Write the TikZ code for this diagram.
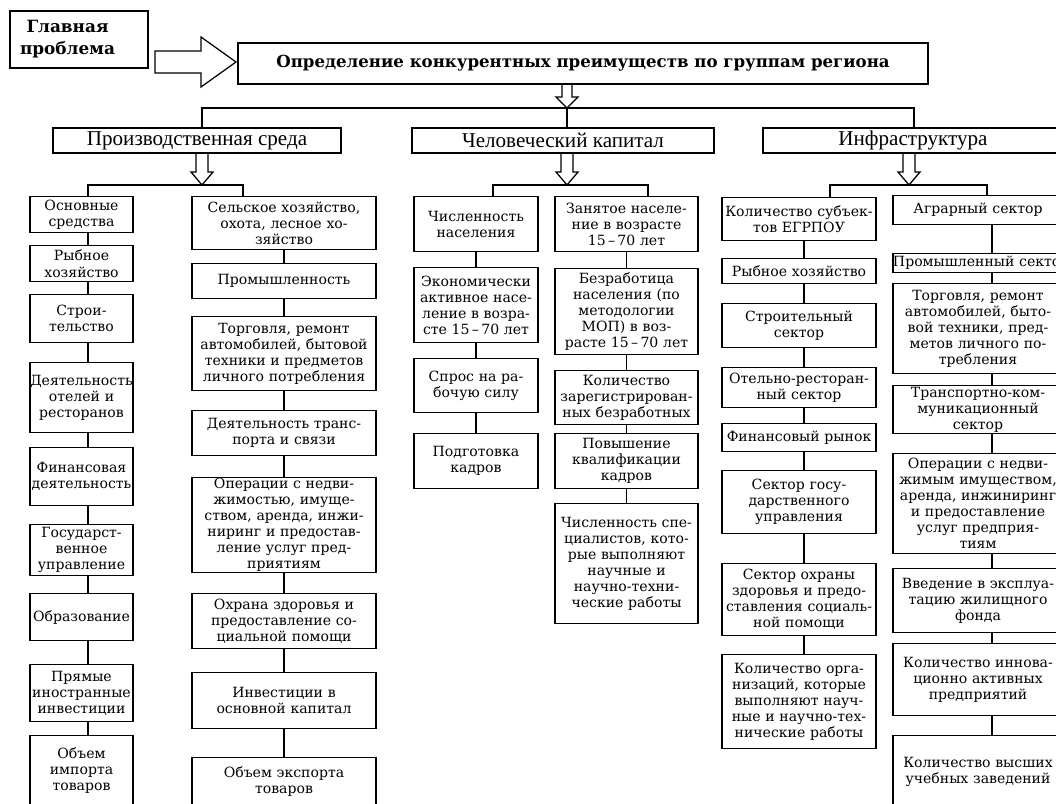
\documentclass[tikz,border=0pt]{standalone}
\usepackage{fontspec}
\setmainfont{DejaVu Serif}
\newfontfamily\headfont{Liberation Serif}
\usepackage{tikz}

\begin{document}
\begin{tikzpicture}[x=0.025cm,y=-0.025cm,
  link/.style={line width=0.9pt},
  cell/.style={draw,line width=0.9pt,align=center,inner sep=0pt,anchor=north,
    font=\fontsize{10}{11.4}\selectfont},
  ht/.style={minimum height=#1*0.025cm},
  col1/.style={cell,text width=2.575cm},
  col2/.style={cell,text width=4.6cm},
  col3/.style={cell,text width=3.1cm},
  col4/.style={cell,text width=3.575cm},
  col5/.style={cell,text width=3.85cm},
  col6/.style={cell,text width=4.25cm},
  group/.style={draw,line width=0.9pt,inner sep=0pt,minimum height=25*0.025cm,
    font=\headfont\fontsize{15}{17}\selectfont}]

\useasboundingbox (0,0) rectangle (1056,803);
\clip (0,0) rectangle (1056,803);

% top row
\node[draw,line width=0.9pt,align=center,inner sep=0pt,text width=3.45cm,minimum height=57*0.025cm,
  font=\bfseries\fontsize{12}{15.5}\selectfont] (gp) at (79,39.5)
  {Главная\makebox[0.575cm]{}\\проблема\makebox[0.575cm]{}};
\node[draw,line width=0.9pt,minimum width=690*0.025cm,minimum height=41*0.025cm,
  font=\bfseries\fontsize{11.8}{13}\selectfont] (main) at (583,63.5)
  {Определение конкурентных преимуществ по группам региона};
\draw[link] (155,51)--(201,51)--(201,37)--(236,62)--(201,87)--(201,73)--(155,73)--cycle;

% groups
\node[group,minimum width=288*0.025cm] (grp1) at (197,140.5) {Производственная среда};
\node[group,minimum width=302*0.025cm] (grp2) at (563,140.5) {Человеческий капитал};
\node[group,minimum width=300*0.025cm] (grp3) at (913,140.5) {Инфраструктура};

\coordinate (t0) at (567,108);
\coordinate (t1) at (202,108);
\coordinate (t3) at (914,108);
\draw[link,shift={(t0)}] (-5,-24)--(-5,-11)--(-11,-11)--(0,0)--(11,-11)--(5,-11)--(5,-24);
\draw[link] (t1 |- grp1.north)--(t1)--(t3)--(t3 |- grp3.north);
\draw[link] (t0)--(t0 |- grp2.north);

% group buses
\coordinate (a1) at (202,185);
\coordinate (a1l) at (88,185);
\coordinate (a1r) at (243,185);
\coordinate (a2) at (567,185);
\coordinate (a2l) at (493,185);
\coordinate (a2r) at (648,185);
\coordinate (a3) at (909,185);
\coordinate (a3l) at (830,185);
\coordinate (a3r) at (987,185);
\draw[link,shift={(a1)}] (-6,-32)--(-6,-13)--(-11,-13)--(0,0)--(11,-13)--(6,-13)--(6,-32);
\draw[link,shift={(a2)}] (-6,-32)--(-6,-13)--(-11,-13)--(0,0)--(11,-13)--(6,-13)--(6,-32);
\draw[link,shift={(a3)}] (-6,-32)--(-6,-13)--(-11,-13)--(0,0)--(11,-13)--(6,-13)--(6,-32);

% column 1
\node[col1,ht=36] (n11) at (81.5,196) {Основные\\средства};
\node[col1,ht=36] (n12) at (81.5,245) {Рыбное\\хозяйство};
\node[col1,ht=48] (n13) at (81.5,294) {Строи-\\тельство};
\node[col1,ht=70] (n14) at (81.5,362) {Деятельность\\отелей и\\ресторанов};
\node[col1,ht=58] (n15) at (81.5,447) {Финансовая\\деятельность};
\node[col1,ht=51] (n16) at (81.5,524) {Государст-\\венное\\управление};
\node[col1,ht=47] (n17) at (81.5,593) {Образование};
\node[col1,ht=57] (n18) at (81.5,664) {Прямые\\иностранные\\инвестиции};
\node[col1,ht=70] (n19) at (81.5,735) {Объем\\импорта\\товаров};

% column 2
\node[col2,ht=53] (n21) at (284,196) {Сельское хозяйство,\\охота, лесное хо-\\зяйство};
\node[col2,ht=35] (n22) at (284,263) {Промышленность};
\node[col2,ht=74] (n23) at (284,316) {Торговля, ремонт\\автомобилей, бытовой\\техники и предметов\\личного потребления};
\node[col2,ht=45] (n24) at (284,410) {Деятельность транс-\\порта и связи};
\node[col2,ht=95] (n25) at (284,477) {Операции с недви-\\жимостью, имуще-\\ством, аренда, инжи-\\ниринг и предостав-\\ление услуг пред-\\приятиям};
\node[col2,ht=55] (n26) at (284,593) {Охрана здоровья и\\предоставление со-\\циальной помощи};
\node[col2,ht=56] (n27) at (284,672) {Инвестиции в\\основной капитал};
\node[col2,ht=48] (n28) at (284,757) {Объем экспорта\\товаров};

% column 3
\node[col3,ht=55] (n31) at (476,196) {Численность\\населения};
\node[col3,ht=75] (n32) at (476,267) {Экономически\\активное насе-\\ление в возра-\\сте 15\,–\,70 лет};
\node[col3,ht=54] (n33) at (476,358) {Спрос на ра-\\бочую силу};
\node[col3,ht=55] (n34) at (476,433) {Подготовка\\кадров};

% column 4
\node[col4,ht=55] (n41) at (626.5,196) {Занятое населе-\\ние в возрасте\\15\,–\,70 лет};
\node[col4,ht=86] (n42) at (626.5,268) {Безработица\\населения (по\\методологии\\МОП) в воз-\\расте 15\,–\,70 лет};
\node[col4,ht=54] (n43) at (626.5,370) {Количество\\зарегистрирован-\\ных безработных};
\node[col4,ht=55] (n44) at (626.5,433) {Повышение\\квалификации\\кадров};
\node[col4,ht=120] (n45) at (626.5,503) {Численность спе-\\циалистов, кото-\\рые выполняют\\научные и\\научно-техни-\\ческие работы};

% column 5
\node[col5,ht=43] (n51) at (799,197) {Количество субъек-\\тов ЕГРПОУ};
\node[col5,ht=25] (n52) at (799,258) {Рыбное хозяйство};
\node[col5,ht=44] (n53) at (799,303) {Строительный\\сектор};
\node[col5,ht=40] (n54) at (799,367) {Отельно-ресторан-\\ный сектор};
\node[col5,ht=28] (n55) at (799,423) {Финансовый рынок};
\node[col5,ht=63] (n56) at (799,470) {Сектор госу-\\дарственного\\управления};
\node[col5,ht=72] (n57) at (799,563) {Сектор охраны\\здоровья и предо-\\ставления социаль-\\ной помощи};
\node[col5,ht=94] (n58) at (799,654) {Количество орга-\\низаций, которые\\выполняют науч-\\ные и научно-тех-\\нические работы};

% column 6
\node[col6,ht=29] (n61) at (978,195) {Аграрный сектор};
\node[col6,ht=19] (n62) at (978,253) {\mbox{Промышленный сектор}};
\node[col6,ht=90] (n63) at (978,283) {Торговля, ремонт\\автомобилей, быто-\\вой техники, пред-\\метов личного по-\\требления};
\node[col6,ht=48] (n64) at (978,385) {Транспортно-ком-\\муникационный\\сектор};
\node[col6,ht=100] (n65) at (978,453) {Операции с недви-\\жимым имуществом,\\аренда, инжиниринг\\и предоставление\\услуг предприя-\\тиям};
\node[col6,ht=64] (n66) at (978,568) {Введение в эксплуа-\\тацию жилищного\\фонда};
\node[col6,ht=72] (n67) at (978,643) {Количество иннова-\\ционно активных\\предприятий};
\node[col6,ht=73] (n68) at (978,735) {Количество высших\\учебных заведений};

% buses to columns
\draw[link] (a1l |- n11.north)--(a1l)--(a1r)--(a1r |- n21.north);
\draw[link] (a2l |- n31.north)--(a2l)--(a2r)--(a2r |- n41.north);
\draw[link] (a3l |- n51.north)--(a3l)--(a3r)--(a3r |- n61.north);

% links inside columns
\coordinate (c1) at (88,0);
\coordinate (c5) at (804,0);
\coordinate (c6) at (992,0);
\draw[link] (n11.south -| c1)--(n12.north -| c1) (n12.south -| c1)--(n13.north -| c1)
  (n13.south -| c1)--(n14.north -| c1) (n14.south -| c1)--(n15.north -| c1)
  (n15.south -| c1)--(n16.north -| c1) (n16.south -| c1)--(n17.north -| c1)
  (n17.south -| c1)--(n18.north -| c1) (n18.south -| c1)--(n19.north -| c1);
\draw[link] (n21)--(n22) (n22)--(n23) (n23)--(n24) (n24)--(n25) (n25)--(n26) (n26)--(n27) (n27)--(n28);
\draw[link] (n31)--(n32) (n32)--(n33) (n33)--(n34);
\draw[link] (n41)--(n42) (n42)--(n43) (n43)--(n44) (n44)--(n45);
\draw[link] (n51.south -| c5)--(n52.north -| c5) (n52.south -| c5)--(n53.north -| c5)
  (n53.south -| c5)--(n54.north -| c5) (n54.south -| c5)--(n55.north -| c5)
  (n55.south -| c5)--(n56.north -| c5) (n56.south -| c5)--(n57.north -| c5)
  (n57.south -| c5)--(n58.north -| c5);
\draw[link] (n61.south -| c6)--(n62.north -| c6) (n62.south -| c6)--(n63.north -| c6)
  (n63.south -| c6)--(n64.north -| c6) (n64.south -| c6)--(n65.north -| c6)
  (n65.south -| c6)--(n66.north -| c6) (n66.south -| c6)--(n67.north -| c6)
  (n67.south -| c6)--(n68.north -| c6);

\end{tikzpicture}
\end{document}
